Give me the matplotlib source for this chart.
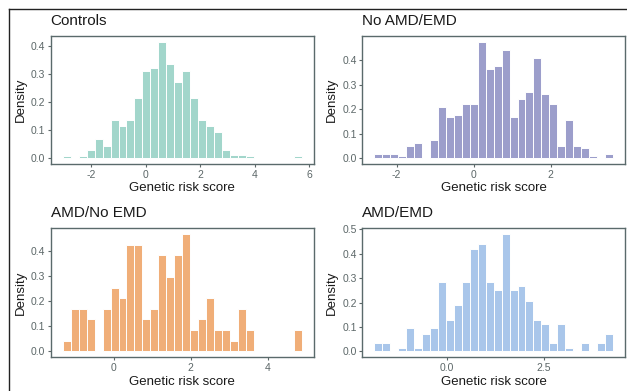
"""
Genetic risk score histograms for the four groups (2x2 grid)
"""

import numpy as np
import matplotlib
matplotlib.use('Agg')
import matplotlib.pyplot as plt
from matplotlib.lines import Line2D

plt.rcParams['font.family'] = ['Liberation Sans', 'DejaVu Sans']
plt.rcParams['axes.unicode_minus'] = False

# panel titles
titles = ['Controls', 'No AMD/EMD', 'AMD/No EMD', 'AMD/EMD']

# first and last bin centres of each histogram (30 bins each)
bin_lo = [-2.91, -2.48, -1.22, -1.78]
bin_hi = [5.59, 3.52, 4.78, 4.19]

# densities per bin
controls = [0.008, 0.0, 0.008, 0.03, 0.07, 0.045, 0.135, 0.115, 0.135, 0.215,
            0.31, 0.32, 0.415, 0.335, 0.27, 0.31, 0.215, 0.135, 0.115, 0.095,
            0.03, 0.011, 0.011, 0.008, 0.0, 0.0, 0.0, 0.0, 0.0, 0.008]
no_amd_emd = [0.018, 0.018, 0.018, 0.008, 0.05, 0.062, 0.0, 0.073, 0.21, 0.167,
              0.177, 0.22, 0.22, 0.475, 0.365, 0.377, 0.443, 0.167, 0.24, 0.272,
              0.41, 0.26, 0.22, 0.05, 0.155, 0.05, 0.04, 0.008, 0.0, 0.018]
amd_no_emd = [0.042, 0.17, 0.17, 0.127, 0.0, 0.17, 0.254, 0.212, 0.424, 0.424,
              0.127, 0.17, 0.382, 0.297, 0.382, 0.466, 0.085, 0.127, 0.212, 0.085,
              0.085, 0.042, 0.17, 0.085, 0.0, 0.0, 0.0, 0.0, 0.0, 0.085]
amd_emd = [0.036, 0.036, 0.0, 0.013, 0.095, 0.013, 0.073, 0.095, 0.285, 0.13,
           0.19, 0.285, 0.42, 0.44, 0.285, 0.25, 0.48, 0.25, 0.267, 0.207,
           0.13, 0.112, 0.036, 0.112, 0.013, 0.0, 0.036, 0.0, 0.036, 0.073]
densities = [controls, no_amd_emd, amd_no_emd, amd_emd]

colors = ['#a2d6cb', '#9c9ecb', '#f0ae78', '#a9c6ea']

x_ticks = [[-2, 0, 2, 4, 6], [-2, 0, 2], [0, 2, 4], [0.0, 2.5]]
x_ticklabels = [['-2', '0', '2', '4', '6'], ['-2', '0', '2'], ['0', '2', '4'], ['0.0', '2.5']]
y_ticks = [[0.0, 0.1, 0.2, 0.3, 0.4], [0.0, 0.1, 0.2, 0.3, 0.4],
           [0.0, 0.1, 0.2, 0.3, 0.4], [0.0, 0.1, 0.2, 0.3, 0.4, 0.5]]

W, H = 627, 391
fig = plt.figure(figsize=(W / 100, H / 100), dpi=100)

# axes boxes in pixels: left, top, right, bottom
boxes = [(50.7, 36, 314, 164), (362.3, 36, 625, 164),
         (50.7, 228.3, 314, 357.3), (362.3, 228.3, 625, 357.3)]

tick_col = '#5c6768'
for i in range(4):
    l, t, r, b = boxes[i]
    ax = fig.add_axes([l / W, 1 - b / H, (r - l) / W, (b - t) / H])
    heights = np.array(densities[i])
    centers = np.linspace(bin_lo[i], bin_hi[i], len(heights))
    width = centers[1] - centers[0]
    ax.bar(centers, heights, width=width, color=colors[i],
           edgecolor='white', linewidth=0.7)
    ax.use_sticky_edges = False
    ax.margins(x=0.05, y=0.05)

    ax.set_xticks(x_ticks[i])
    ax.set_xticklabels(x_ticklabels[i])
    ax.set_yticks(y_ticks[i])
    ax.set_yticklabels([f'{v:.1f}' for v in y_ticks[i]])
    ax.tick_params(labelsize=7.5, colors=tick_col, length=2.5, width=0.8, pad=1.5)
    for sp in ax.spines.values():
        sp.set_color('#5a6a6b')
        sp.set_linewidth(1.0)

    ax.set_title(titles[i], loc='left', fontsize=11, color='#1a1a1a', pad=8)
    ax.set_xlabel('Genetic risk score', fontsize=9.5, color='#1a1a1a', labelpad=2)
    ax.set_ylabel('Density', fontsize=9.5, color='#1a1a1a', labelpad=3)

# frame lines at top and left of the figure
fig.add_artist(Line2D([9 / W, 1], [1 - 9 / H, 1 - 9 / H], color='#222222', linewidth=1.0))
fig.add_artist(Line2D([9 / W, 9 / W], [0, 1 - 9 / H], color='#222222', linewidth=1.0))

fig.savefig('out.png', dpi=100)
